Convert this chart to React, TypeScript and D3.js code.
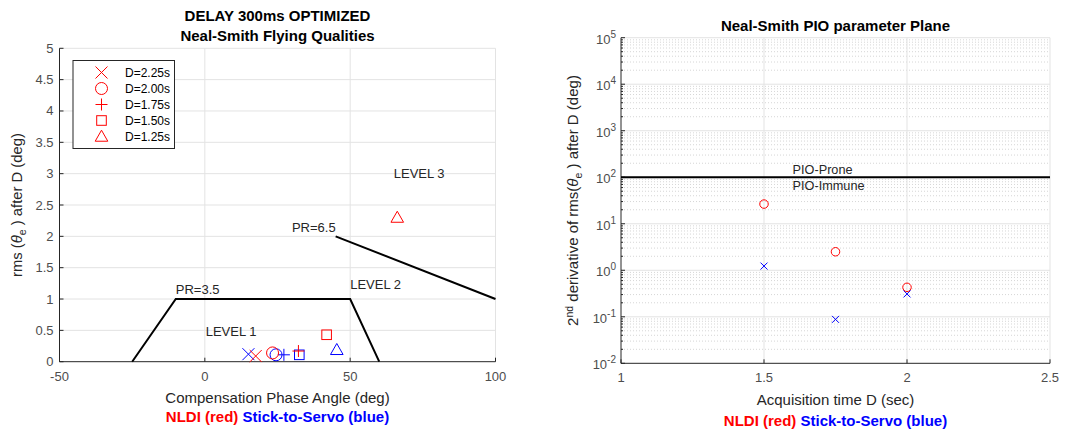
import React from "react";
import * as d3 from "d3";

// ---- data ----
const DURATIONS = ["D=2.25s", "D=2.00s", "D=1.75s", "D=1.50s", "D=1.25s"];
const MARKERS = ["x", "o", "+", "s", "^"];

const NLDI_PHASE = [17.5, 23.3, 32.2, 41.9, 66.2];
const NLDI_RMS = [0.09, 0.14, 0.17, 0.43, 2.3];
const SERVO_PHASE = [15, 24.5, 27.2, 32.5, 45.4];
const SERVO_RMS = [0.12, 0.11, 0.11, 0.11, 0.19];

// boundary lines in the Neal-Smith plane
const PR35_X = [-25, -10, 50, 60];
const PR35_Y = [0, 1, 1, 0];
const PR65_X = [45, 100];
const PR65_Y = [2, 1];

const ACQ_TIME = [1.5, 1.75, 2];
const NLDI_D2 = [26.5, 2.5, 0.43];
const SERVO_D2 = [1.23, 0.088, 0.31];
const PIO_LIMIT = 100;

const LEFT_XTICKS = [-50, 0, 50, 100];
const LEFT_YTICKS = [0, 0.5, 1, 1.5, 2, 2.5, 3, 3.5, 4, 4.5, 5];
const RIGHT_XTICKS = [1, 1.5, 2, 2.5];
const RIGHT_YEXP = [-2, -1, 0, 1, 2, 3, 4, 5];

const RED = "#ff0000";
const BLUE = "#0000ff";
const AXIS = "#262626";
const TICK = "#4d4d4d";
const GRID = "#e3e3e3";
const FONT = "'Liberation Sans', Arial, Helvetica, sans-serif";

function Marker({ type, x, y, color, size }: { type: string; x: number; y: number; color: string; size: number }) {
  const r = size / 2;
  const common = { fill: "none", stroke: color, strokeWidth: 1 };
  if (type === "x")
    return <path d={`M${x - r},${y - r}L${x + r},${y + r}M${x - r},${y + r}L${x + r},${y - r}`} {...common} />;
  if (type === "+")
    return <path d={`M${x - r},${y}L${x + r},${y}M${x},${y - r}L${x},${y + r}`} {...common} />;
  if (type === "o") return <circle cx={x} cy={y} r={r} {...common} />;
  if (type === "s") {
    const s = r * 0.8;
    return <rect x={x - s} y={y - s} width={2 * s} height={2 * s} {...common} />;
  }
  const t = r * 1.05;
  return <path d={`M${x},${y - t}L${x + t},${y + t * 0.75}L${x - t},${y + t * 0.75}Z`} {...common} />;
}

function BottomNote({ cx, y }: { cx: number; y: number }) {
  return (
    <text x={cx} y={y} textAnchor="middle" fontWeight="bold" fontSize={15} fontFamily={FONT}>
      <tspan fill={RED}>NLDI (red) </tspan>
      <tspan fill={BLUE}>Stick-to-Servo (blue)</tspan>
    </text>
  );
}

function LeftPanel() {
  const x = d3.scaleLinear().domain([-50, 100]).range([59.5, 495.5]);
  const y = d3.scaleLinear().domain([0, 5]).range([361.7, 48.3]);
  const [x0, x1] = x.range();
  const [y0, y1] = y.range();
  const line = d3.line<[number, number]>().x(d => x(d[0])).y(d => y(d[1]));
  const cx = (x0 + x1) / 2;

  return (
    <g fontFamily={FONT}>
      {LEFT_XTICKS.filter(t => t > -50).map(t => (
        <line key={"gx" + t} x1={x(t)} x2={x(t)} y1={y0} y2={y1} stroke={GRID} />
      ))}
      {LEFT_YTICKS.filter(t => t > 0).map(t => (
        <line key={"gy" + t} x1={x0} x2={x1} y1={y(t)} y2={y(t)} stroke={GRID} />
      ))}
      {/* axes */}
      <path d={`M${x0},${y1}V${y0}H${x1}`} fill="none" stroke={AXIS} strokeWidth={1} />
      {LEFT_XTICKS.map(t => (
        <g key={"tx" + t}>
          <line x1={x(t)} x2={x(t)} y1={y0} y2={y0 - 4} stroke={AXIS} />
          <text x={x(t)} y={y0 + 19} textAnchor="middle" fontSize={13} fill={TICK}>{t}</text>
        </g>
      ))}
      {LEFT_YTICKS.map(t => (
        <g key={"ty" + t}>
          <line x1={x0} x2={x0 + 4} y1={y(t)} y2={y(t)} stroke={AXIS} />
          <text x={x0 - 6} y={y(t) + 4.5} textAnchor="end" fontSize={13} fill={TICK}>{t}</text>
        </g>
      ))}

      {/* boundaries */}
      <path d={line(PR35_X.map((v, i) => [v, PR35_Y[i]]) as [number, number][]) ?? ""} fill="none" stroke="#000" strokeWidth={2} />
      <path d={line(PR65_X.map((v, i) => [v, PR65_Y[i]]) as [number, number][]) ?? ""} fill="none" stroke="#000" strokeWidth={2} />
      <text x={x(-10)} y={y(1.08)} fontSize={13} fill={AXIS}>PR=3.5</text>
      <text x={x(45)} y={y(2.07)} fontSize={13} fill={AXIS} textAnchor="end">PR=6.5</text>
      <text x={x(0.3)} y={y(0.41)} fontSize={13} fill={AXIS}>LEVEL 1</text>
      <text x={x(50)} y={y(1.165)} fontSize={13} fill={AXIS}>LEVEL 2</text>
      <text x={x(65)} y={y(2.93)} fontSize={13} fill={AXIS}>LEVEL 3</text>

      {SERVO_PHASE.map((v, i) => (
        <Marker key={"b" + i} type={MARKERS[i]} x={x(v)} y={y(SERVO_RMS[i])} color={BLUE} size={12} />
      ))}
      {NLDI_PHASE.map((v, i) => (
        <Marker key={"r" + i} type={MARKERS[i]} x={x(v)} y={y(NLDI_RMS[i])} color={RED} size={12} />
      ))}

      {/* legend */}
      <rect x={73} y={60.5} width={101.5} height={88} fill="#fff" stroke={AXIS} strokeWidth={1} />
      {DURATIONS.map((d, i) => (
        <g key={d}>
          <Marker type={MARKERS[i]} x={101.5} y={72.5 + i * 16} color={RED} size={12} />
          <text x={125} y={72.5 + i * 16 + 4.5} fontSize={12} fill="#000">{d}</text>
        </g>
      ))}

      {/* titles */}
      <text x={cx} y={20.5} textAnchor="middle" fontWeight="bold" fontSize={15} fill="#000">DELAY 300ms OPTIMIZED</text>
      <text x={cx} y={40.5} textAnchor="middle" fontWeight="bold" fontSize={15} fill="#000">Neal-Smith Flying Qualities</text>
      <text x={cx} y={403} textAnchor="middle" fontSize={15} fill={AXIS}>Compensation Phase Angle (deg)</text>
      <text transform={`translate(22,${(y0 + y1) / 2}) rotate(-90)`} textAnchor="middle" fontSize={14.8} fill={AXIS}>
        rms (<tspan fontStyle="italic">θ</tspan>
        <tspan fontSize={10.5} dy={4}>e</tspan>
        <tspan dy={-4}> ) after D (deg)</tspan>
      </text>
      <BottomNote cx={cx} y={422} />
    </g>
  );
}

function RightPanel() {
  const x = d3.scaleLinear().domain([1, 2.5]).range([621, 1050]);
  const y = d3.scaleLog().domain([1e-2, 1e5]).range([363.3, 37.7]);
  const [x0, x1] = x.range();
  const [y0, y1] = y.range();
  const cx = (x0 + x1) / 2;
  const minors: number[] = [];
  RIGHT_YEXP.slice(0, -1).forEach(e => {
    for (let m = 2; m <= 9; m++) minors.push(m * Math.pow(10, e));
  });

  return (
    <g fontFamily={FONT}>
      {minors.map(v => (
        <line key={"m" + v} x1={x0} x2={x1} y1={y(v)} y2={y(v)} stroke="#d6d6d6" strokeDasharray="1,2" />
      ))}
      {RIGHT_YEXP.slice(1).map(e => (
        <line key={"gy" + e} x1={x0} x2={x1} y1={y(Math.pow(10, e))} y2={y(Math.pow(10, e))} stroke={GRID} />
      ))}
      {RIGHT_XTICKS.slice(1).map(t => (
        <line key={"gx" + t} x1={x(t)} x2={x(t)} y1={y0} y2={y1} stroke={GRID} />
      ))}
      <path d={`M${x0},${y1}V${y0}H${x1}`} fill="none" stroke={AXIS} />
      {minors.map(v => (
        <line key={"mt" + v} x1={x0} x2={x0 + 2} y1={y(v)} y2={y(v)} stroke={AXIS} />
      ))}
      {RIGHT_XTICKS.map(t => (
        <g key={"tx" + t}>
          <line x1={x(t)} x2={x(t)} y1={y0} y2={y0 - 4} stroke={AXIS} />
          <text x={x(t)} y={y0 + 19} textAnchor="middle" fontSize={13} fill={TICK}>{t}</text>
        </g>
      ))}
      {RIGHT_YEXP.map(e => (
        <g key={"ty" + e}>
          <line x1={x0} x2={x0 + 4} y1={y(Math.pow(10, e))} y2={y(Math.pow(10, e))} stroke={AXIS} />
          <text x={x0 - 5} y={y(Math.pow(10, e)) + 6} textAnchor="end" fontSize={13} fill={TICK}>
            10<tspan fontSize={10} dy={-6}>{e}</tspan>
          </text>
        </g>
      ))}

      <line x1={x0} x2={x1} y1={y(PIO_LIMIT)} y2={y(PIO_LIMIT)} stroke="#000" strokeWidth={2} />
      <text x={x(1.6)} y={y(PIO_LIMIT) - 3} fontSize={12.7} fill={AXIS}>PIO-Prone</text>
      <text x={x(1.6)} y={y(PIO_LIMIT) + 13} fontSize={12.7} fill={AXIS}>PIO-Immune</text>

      {ACQ_TIME.map((t, i) => (
        <Marker key={"b" + i} type="x" x={x(t)} y={y(SERVO_D2[i])} color={BLUE} size={7} />
      ))}
      {ACQ_TIME.map((t, i) => (
        <Marker key={"r" + i} type="o" x={x(t)} y={y(NLDI_D2[i])} color={RED} size={8.5} />
      ))}

      <text x={cx} y={30.5} textAnchor="middle" fontWeight="bold" fontSize={15} fill="#000">Neal-Smith PIO parameter Plane</text>
      <text x={cx} y={404.5} textAnchor="middle" fontSize={15} fill={AXIS}>Acquisition time D (sec)</text>
      <text transform={`translate(578,${(y0 + y1) / 2}) rotate(-90)`} textAnchor="middle" fontSize={15} fill={AXIS}>
        2<tspan fontSize={10.5} dy={-5}>nd</tspan>
        <tspan dy={5}> derivative of rms(</tspan>
        <tspan fontStyle="italic">θ</tspan>
        <tspan fontSize={10.5} dy={4}>e</tspan>
        <tspan dy={-4}> ) after D (deg)</tspan>
      </text>
      <BottomNote cx={cx} y={425.5} />
    </g>
  );
}

export default function App() {
  return (
    <div style={{ position: "fixed", left: 0, top: 0 }}>
      <svg width={1069} height={430} style={{ display: "block", background: "#fff" }}>
        <LeftPanel />
        <RightPanel />
      </svg>
    </div>
  );
}
